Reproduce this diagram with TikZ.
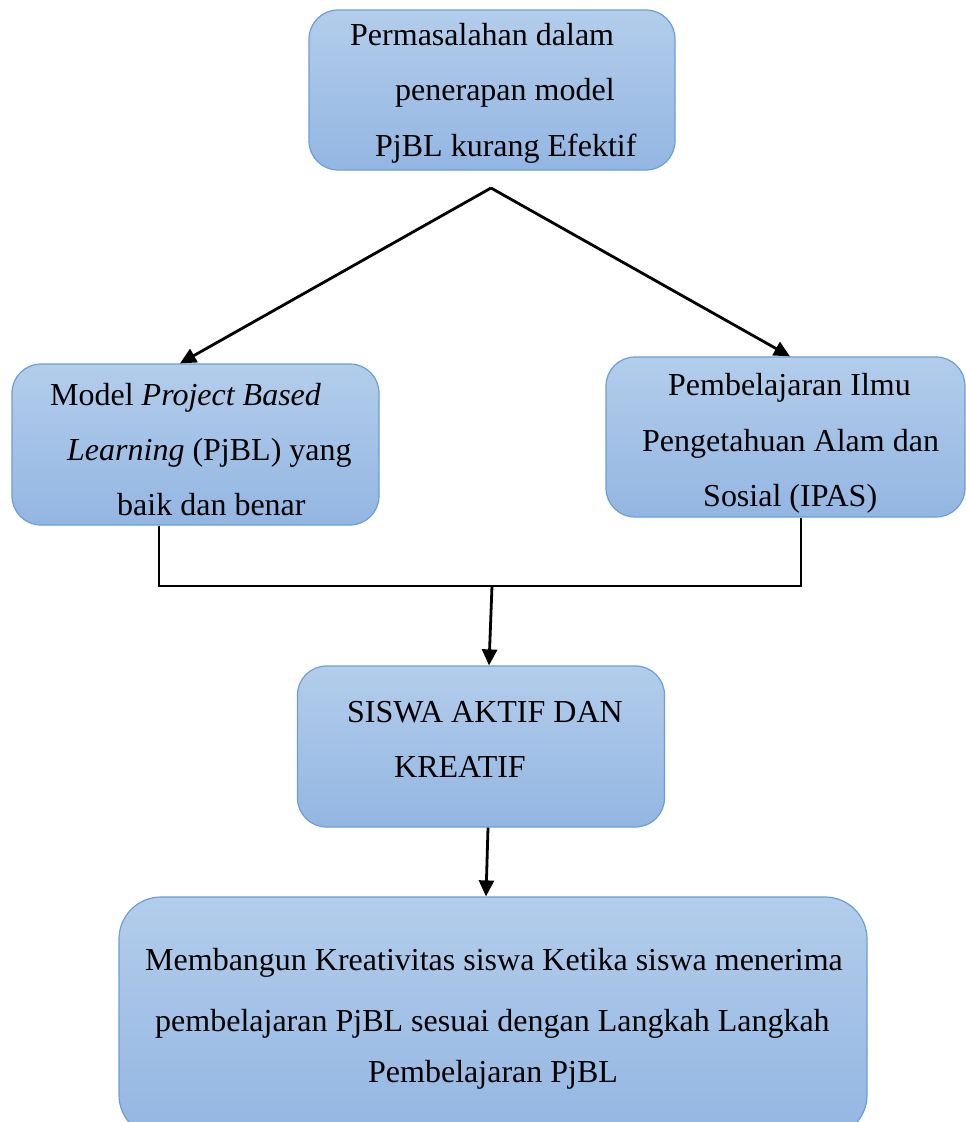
\documentclass[tikz,border=0pt]{standalone}
\usepackage{fontspec}
\setmainfont{Liberation Serif}
\usetikzlibrary{arrows.meta}
\definecolor{boxtop}{HTML}{B3CDEB}
\definecolor{boxbot}{HTML}{93B6E2}
\definecolor{boxline}{HTML}{6A9FD8}
\tikzset{
  box/.style={draw=boxline, line width=1.2pt, rounded corners=29pt,
    top color=boxtop, bottom color=boxbot, inner sep=0pt},
  txt/.style={anchor=base west, inner sep=0pt, font=\fontsize{32}{38}\selectfont},
  conn/.style={line width=2.8pt, black},
  arr/.style={conn, -{Triangle[length=16pt,width=15pt]}}
}
\begin{document}
\begin{tikzpicture}[x=1pt, y=-1pt]
\clip (0,0) rectangle (966,1122);
\fill[white] (0,0) rectangle (966,1122);
% boxes
\node[box, minimum width=366pt, minimum height=160pt] (top) at (492,90) {};
\node[box, minimum width=367pt, minimum height=161pt] (left) at (195.5,444.5) {};
\node[box, minimum width=359pt, minimum height=160pt] (right) at (785.5,437) {};
\node[box, minimum width=367pt, minimum height=161pt] (mid) at (481,746.5) {};
\node[box, rounded corners=42pt, minimum width=748pt, minimum height=240pt] (bot) at (493,1017) {};
% texts
\node[txt] (t1) at (350,45) {Permasalahan dalam};
\node[txt] (t2) at (395,100) {penerapan model};
\node[txt] (t3) at (375,156) {PjBL kurang Efektif};
\node[txt] (l1) at (50,405) {Model \textit{Project Based}};
\node[txt] (l2) at (67,460) {\textit{Learning} (PjBL) yang};
\node[txt] (l3) at (117,515) {baik dan benar};
\node[txt] (r1) at (668,395) {Pembelajaran Ilmu};
\node[txt] (r2) at (642,451) {Pengetahuan Alam dan};
\node[txt] (r3) at (703,506) {Sosial (IPAS)};
\node[txt] (m1) at (347,722) {SISWA AKTIF DAN};
\node[txt] (m2) at (394,777) {KREATIF};
\node[txt] (b1) at (145,970) {Membangun Kreativitas siswa Ketika siswa menerima};
\node[txt] (b2) at (155,1031) {pembelajaran PjBL sesuai dengan Langkah Langkah};
\node[txt] (b3) at (368,1082) {Pembelajaran PjBL};
% connectors
\coordinate (split) at (491,188);
\draw[arr] (split) -- ([xshift=-15.5pt]left.north);
\draw[arr] (split) -- ([xshift=4.5pt]right.north);
\coordinate (jl) at (159,586);
\coordinate (jr) at (801,586);
\coordinate (jm) at (492,586);
\draw[conn] (left.south -| jl) -- (jl) -- (jr) -- (right.south -| jr);
\draw[arr] (jm) -- ([xshift=8pt]mid.north);
\draw[arr] ([xshift=7pt]mid.south) -- ([xshift=-7pt]bot.north);
\end{tikzpicture}
\end{document}
